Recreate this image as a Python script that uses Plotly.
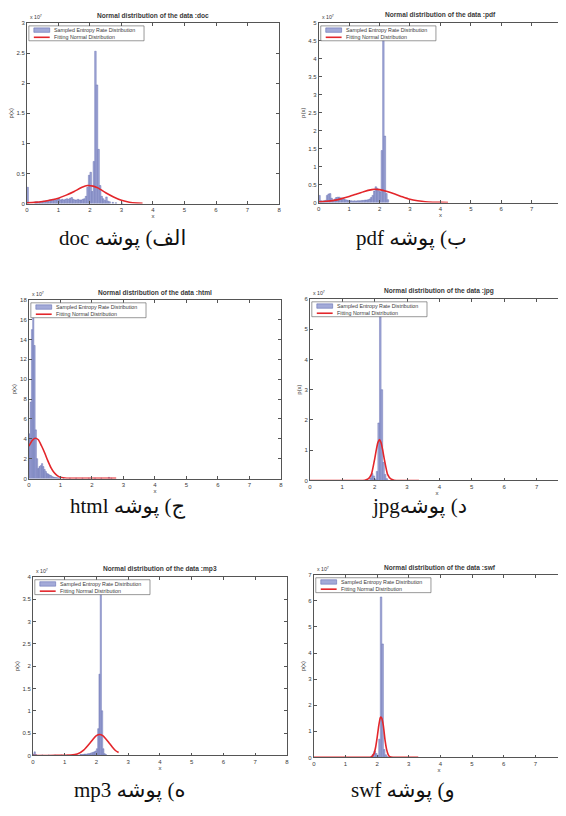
import plotly.graph_objects as go

# The page body has an 8px margin, so the figure is drawn 8px in from the window corner.
PAGE_OFFSET = 8
W, H = 566 - PAGE_OFFSET, 816 - PAGE_OFFSET

# ---------------- data (y in units of 1e7) ----------------
panel_names = ["doc", "pdf", "html", "jpg", "mp3", "swf"]
captions = ["الف) پوشه doc", "ب) پوشه pdf", "ج) پوشه html", "د) پوشهjpg", "ه) پوشه mp3", "و) پوشه swf"]
legend_labels = ["Sampled Entropy Rate Distribution", "Fitting Normal Distribution"]
title_prefix = "Normal distribution of the data :"
exponent_label = "x 10<sup>7</sup>"
x_title = "x"
y_title = "p(x)"

doc_bin_x = [0.025, 0.275, 0.325, 0.375, 0.425, 0.475, 0.525, 0.575, 0.625, 0.675, 0.725, 0.775,
             0.825, 0.875, 0.925, 0.975, 1.025, 1.075, 1.125, 1.175, 1.225, 1.275, 1.325, 1.375,
             1.425, 1.475, 1.525, 1.575, 1.625, 1.675, 1.725, 1.775, 1.825, 1.875, 1.925, 1.975,
             2.025, 2.075, 2.125, 2.175, 2.225, 2.275, 2.325, 2.375, 2.425, 2.475, 2.525, 2.575,
             2.625, 2.725, 2.825, 3.025]
doc_bin_y = [0.27, 0.03, 0.03, 0.02, 0.03, 0.03, 0.04, 0.04, 0.05, 0.05, 0.06, 0.06,
             0.07, 0.07, 0.06, 0.07, 0.08, 0.06, 0.07, 0.06, 0.07, 0.08, 0.07, 0.09,
             0.10, 0.07, 0.06, 0.06, 0.07, 0.06, 0.06, 0.07, 0.08, 0.12, 0.27, 0.47,
             0.52, 0.20, 0.70, 2.53, 1.97, 0.90, 0.30, 0.12, 0.08, 0.05, 0.11, 0.04,
             0.03, 0.02, 0.015, 0.01]
doc_fit_x = [0, 0.25, 0.5, 0.75, 1.0, 1.25, 1.5, 1.75, 1.92, 2.1, 2.25, 2.5, 2.75, 3.0, 3.25, 3.5, 3.67]
doc_fit_y = [0.012, 0.02, 0.035, 0.06, 0.09, 0.14, 0.20, 0.27, 0.30, 0.29, 0.26, 0.18, 0.11, 0.055, 0.022, 0.007, 0.003]

pdf_bin_x = [0.025, 0.075, 0.125, 0.175, 0.225, 0.275, 0.325, 0.375, 0.425, 0.475,
             0.525, 0.575, 0.625, 0.675, 0.725, 0.775, 0.825, 0.875, 0.925, 0.975,
             1.025, 1.075, 1.125, 1.175, 1.225, 1.275, 1.325, 1.375, 1.425, 1.475,
             1.525, 1.575, 1.625, 1.675, 1.725, 1.775, 1.825, 1.875, 1.925, 1.975,
             2.025, 2.075, 2.125, 2.175, 2.225, 2.275]
pdf_bin_y = [0.20, 0.05, 0.04, 0.05, 0.06, 0.20, 0.24, 0.25, 0.12, 0.06,
             0.10, 0.14, 0.15, 0.15, 0.13, 0.12, 0.10, 0.08, 0.07, 0.06,
             0.05, 0.05, 0.04, 0.05, 0.04, 0.05, 0.05, 0.05, 0.06, 0.06,
             0.07, 0.07, 0.08, 0.10, 0.14, 0.20, 0.32, 0.44, 0.40, 0.33,
             0.30, 1.45, 4.60, 1.85, 0.25, 0.08]
pdf_fit_x = [0, 0.25, 0.5, 0.75, 1.0, 1.25, 1.5, 1.75, 1.83, 2.0, 2.25, 2.5, 2.75, 3.0, 3.25, 3.5, 3.75, 4.0, 4.25]
pdf_fit_y = [0.02, 0.035, 0.06, 0.11, 0.17, 0.24, 0.31, 0.36, 0.37, 0.36, 0.31, 0.24, 0.16, 0.09, 0.05, 0.022, 0.01, 0.004, 0.002]

html_bin_x = [0.02, 0.06, 0.10, 0.14, 0.18, 0.22, 0.26, 0.30, 0.34, 0.38, 0.42, 0.46, 0.50,
              0.54, 0.58, 0.62, 0.66, 0.70, 0.74, 0.78, 0.82, 0.86, 0.90, 0.94, 0.98,
              1.10, 1.30, 1.50, 1.70, 1.90, 2.10, 2.30, 2.54, 2.62]
html_bin_y = [4.5, 7.7, 15.0, 16.2, 13.4, 4.9, 2.0, 1.0, 1.2, 1.3, 1.5, 1.2, 0.9,
              0.7, 0.5, 0.45, 0.35, 0.3, 0.2, 0.15, 0.12, 0.1, 0.08, 0.06, 0.05,
              0.04, 0.04, 0.04, 0.04, 0.04, 0.04, 0.04, 0.12, 0.04]
html_fit_x = [0, 0.1, 0.2, 0.3, 0.4, 0.5, 0.6, 0.7, 0.8, 0.9, 1.0, 1.2, 1.5, 2.0, 2.5, 2.77]
html_fit_y = [3.25, 3.8, 4.05, 3.9, 3.3, 2.6, 1.8, 1.1, 0.6, 0.3, 0.13, 0.03, 0.01, 0.01, 0.01, 0.01]

jpg_bin_x = [1.875, 1.925, 1.975, 2.025, 2.075, 2.125, 2.175, 2.225, 2.275, 2.325, 2.375]
jpg_bin_y = [0.08, 0.23, 0.15, 0.05, 0.30, 1.90, 5.50, 3.00, 0.60, 0.20, 0.06]
jpg_fit_x = [0, 1.5, 1.7, 1.8, 1.9, 2.0, 2.05, 2.1, 2.15, 2.2, 2.25, 2.3, 2.4, 2.5, 2.6, 2.8, 3.37]
jpg_fit_y = [0, 0, 0.01, 0.05, 0.2, 0.7, 1.0, 1.25, 1.35, 1.25, 1.0, 0.7, 0.2, 0.05, 0.01, 0, 0]

mp3_bin_x = [0.02, 0.06, 0.10, 0.30, 0.50, 0.70, 0.90, 1.10, 1.30, 1.50, 1.54, 1.58, 1.62, 1.66,
             1.70, 1.74, 1.78, 1.82, 1.86, 1.90, 1.94, 1.98, 2.02, 2.06, 2.10, 2.14, 2.18,
             2.22, 2.26, 2.30]
mp3_bin_y = [0.03, 0.08, 0.02, 0.01, 0.01, 0.01, 0.01, 0.01, 0.01, 0.02, 0.02, 0.02, 0.03, 0.03,
             0.03, 0.04, 0.04, 0.05, 0.06, 0.07, 0.08, 0.10, 0.15, 0.60, 1.82, 3.70, 1.00,
             0.15, 0.04, 0.02]
mp3_fit_x = [0, 0.5, 1.0, 1.2, 1.4, 1.6, 1.8, 1.9, 2.0, 2.1, 2.2, 2.3, 2.4, 2.5, 2.6, 2.7]
mp3_fit_y = [0, 0, 0.002, 0.006, 0.03, 0.12, 0.28, 0.37, 0.445, 0.47, 0.445, 0.37, 0.28, 0.19, 0.11, 0.065]

swf_bin_x = [1.825, 1.875, 1.925, 1.975, 2.025, 2.075, 2.125, 2.175, 2.225, 2.275, 2.325]
swf_bin_y = [0.03, 0.12, 0.25, 0.15, 0.08, 0.70, 6.15, 4.35, 0.30, 0.10, 0.03]
swf_fit_x = [0, 1.6, 1.8, 1.9, 1.95, 2.0, 2.05, 2.1, 2.12, 2.15, 2.2, 2.25, 2.3, 2.35, 2.4, 2.5, 2.7, 3.3]
swf_fit_y = [0, 0, 0.01, 0.14, 0.37, 0.75, 1.2, 1.52, 1.55, 1.5, 1.2, 0.67, 0.31, 0.11, 0.03, 0.005, 0, 0]

y_max = [3, 5, 18, 6, 4, 7]
y_step = [0.5, 0.5, 2, 1, 0.5, 1]

# ---------------- layout / style ----------------
# window-pixel boxes of the plot areas: (left, right, top, bottom)
boxes = [(25, 279, 20, 202), (319, 564, 20, 201), (27, 281, 299, 479),
         (310, 566, 298, 481), (31, 287, 578, 758), (314, 566, 576, 760)]
x_full_px = [254, 245, 254, 261, 256, 255]   # pixel length of 0..8 on each x axis
caption_pos = [(187, 237), (470, 237), (187, 507), (470, 507), (186, 793), (458, 793)]

bins_x = [doc_bin_x, pdf_bin_x, html_bin_x, jpg_bin_x, mp3_bin_x, swf_bin_x]
bins_y = [doc_bin_y, pdf_bin_y, html_bin_y, jpg_bin_y, mp3_bin_y, swf_bin_y]
fits_x = [doc_fit_x, pdf_fit_x, html_fit_x, jpg_fit_x, mp3_fit_x, swf_fit_x]
fits_y = [doc_fit_y, pdf_fit_y, html_fit_y, jpg_fit_y, mp3_fit_y, swf_fit_y]
bin_width = [0.05, 0.05, 0.04, 0.05, 0.04, 0.05]

BAR_FILL = "#a3aad8"
BAR_EDGE = "#5560aa"
RED = "#e3262b"
AX = "#555555"
TXT = "#3a3a3a"
SANS = "Liberation Sans, Arial, sans-serif"


def px(x):
    return (x - PAGE_OFFSET) / W


def py(y):
    return 1 - (y - PAGE_OFFSET) / H


fig = go.Figure()
layout = dict(width=W, height=H, margin=dict(l=0, r=0, t=0, b=0),
              paper_bgcolor="white", plot_bgcolor="white", showlegend=False,
              barmode="overlay")
shapes = []
annotations = []

for i in range(6):
    n = i + 1
    sfx = "" if n == 1 else str(n)
    L, R, T, B = boxes[i]
    xmax = 8 * (R - L) / x_full_px[i]
    axis_common = dict(showline=True, linecolor=AX, linewidth=0.8, mirror="ticks",
                       ticks="inside", ticklen=3, tickwidth=0.6, tickcolor=AX,
                       showgrid=False, zeroline=False,
                       tickfont=dict(size=6, color=TXT, family=SANS))
    layout["xaxis" + sfx] = dict(axis_common, domain=[px(L), min(px(R), 1)], anchor="y" + sfx,
                                 range=[0, xmax], tick0=0, dtick=1,
                                 title=dict(text=x_title, standoff=0,
                                            font=dict(size=6, color=TXT, family=SANS)))
    layout["yaxis" + sfx] = dict(axis_common, domain=[py(B), py(T)], anchor="x" + sfx,
                                 range=[0, y_max[i]], tick0=0, dtick=y_step[i],
                                 title=dict(text=y_title, standoff=2,
                                            font=dict(size=6, color=TXT, family=SANS)))

    fig.add_trace(go.Bar(x=bins_x[i], y=bins_y[i], width=bin_width[i],
                         marker=dict(color=BAR_FILL, line=dict(color=BAR_EDGE, width=0.4)),
                         name=legend_labels[0], xaxis="x" + sfx, yaxis="y" + sfx))
    fig.add_trace(go.Scatter(x=fits_x[i], y=fits_y[i], mode="lines",
                             line=dict(color=RED, width=1.6, shape="spline", smoothing=0.5),
                             name=legend_labels[1], xaxis="x" + sfx, yaxis="y" + sfx))

    # title
    annotations.append(dict(text="<b>" + title_prefix + panel_names[i] + "</b>",
                            x=px(L + x_full_px[i] / 2), y=py(T - 2),
                            xref="paper", yref="paper", xanchor="center", yanchor="bottom",
                            showarrow=False, font=dict(size=6.6, color=TXT, family=SANS)))
    # exponent
    annotations.append(dict(text=exponent_label, x=px(L + 1), y=py(T - 1),
                            xref="paper", yref="paper", xanchor="left", yanchor="bottom",
                            showarrow=False, font=dict(size=5.2, color=TXT, family=SANS)))
    # legend box
    shapes.append(dict(type="rect", xref="paper", yref="paper",
                       x0=px(L + 2), x1=px(L + 118), y0=py(T + 3), y1=py(T + 18),
                       fillcolor="white", line=dict(color=AX, width=0.6), layer="above"))
    shapes.append(dict(type="rect", xref="paper", yref="paper",
                       x0=px(L + 7), x1=px(L + 23), y0=py(T + 5), y1=py(T + 9.5),
                       fillcolor=BAR_FILL, line=dict(color=BAR_EDGE, width=0.5), layer="above"))
    shapes.append(dict(type="line", xref="paper", yref="paper",
                       x0=px(L + 7), x1=px(L + 23), y0=py(T + 14.5), y1=py(T + 14.5),
                       line=dict(color=RED, width=1.6), layer="above"))
    for k, yy in enumerate([T + 7.3, T + 14.5]):
        annotations.append(dict(text=legend_labels[k], x=px(L + 25), y=py(yy),
                                xref="paper", yref="paper", xanchor="left", yanchor="middle",
                                showarrow=False, font=dict(size=5.3, color=TXT, family=SANS)))
    # caption (right-to-left)
    cx, cy = caption_pos[i]
    annotations.append(dict(text="\u202B" + captions[i] + "\u202C", x=px(cx), y=py(cy),
                            xref="paper", yref="paper", xanchor="right", yanchor="middle",
                            showarrow=False,
                            font=dict(size=21, color="#111",
                                      family="Liberation Serif, Times New Roman, DejaVu Sans, serif")))

layout["shapes"] = shapes
layout["annotations"] = annotations
fig.update_layout(**layout)
fig.write_html("out.html")
